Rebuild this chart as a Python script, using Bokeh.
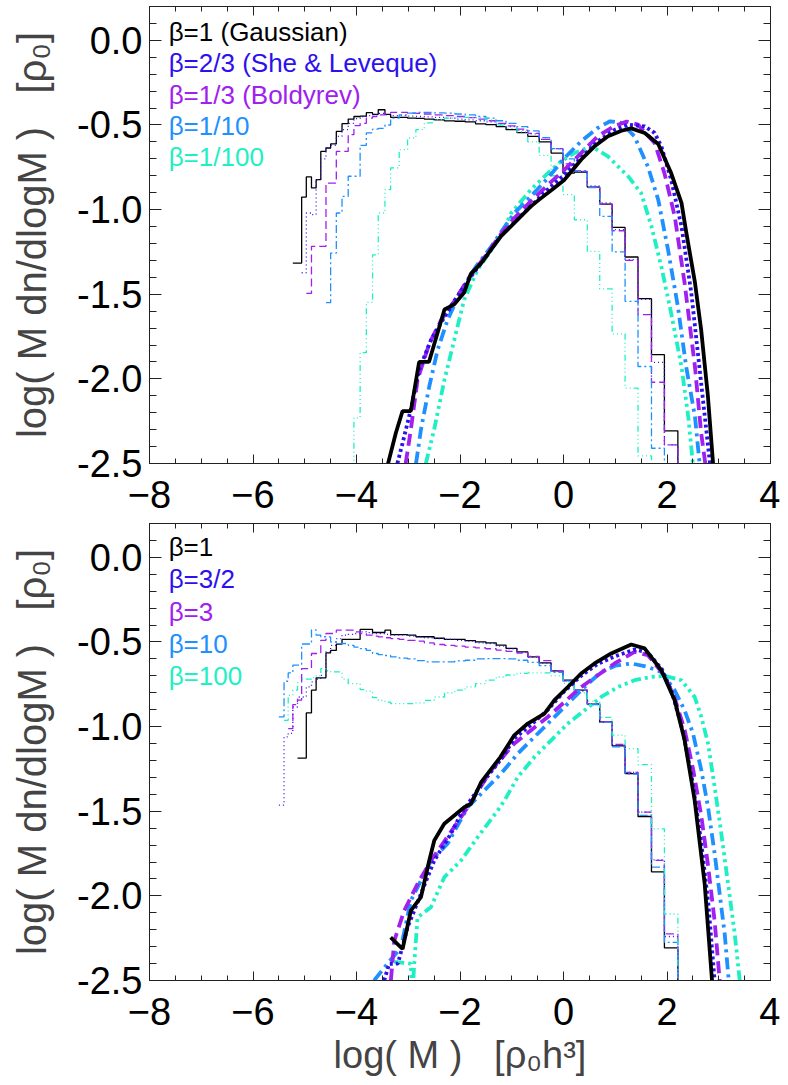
import math
from bokeh.plotting import figure
from bokeh.models import Range1d, LinearAxis, SingleIntervalTicker, PrintfTickFormatter, BasicTickFormatter, Label
from bokeh.layouts import column
from bokeh.embed import file_html
from bokeh.resources import INLINE

FLOOR = -3.0  # histogram bins that fall below the plotted range
N = None

# common histogram bin edges, log(M)
EDGES = [-5.50, -5.40, -5.32, -5.23, -5.14, -5.06, -4.97, -4.87, -4.78, -4.69,
         -4.59, -4.50, -4.39, -4.28, -4.16, -4.05, -3.93, -3.81, -3.69, -3.58,
         -3.45, -3.34, -3.175, -3.013, -2.852, -2.69, -2.50, -2.30, -2.10, -1.90,
         -1.70, -1.50, -1.30, -1.11, -0.90, -0.69, -0.47, -0.24, -0.01, 0.21,
         0.46, 0.70, 0.94, 1.19, 1.44, 1.70, 1.95, 2.21, 2.46]

# ---------------- top panel: histograms ----------------
TOP_HIST_B1 = [N, N, N, -1.316, -1.316, -0.926, -0.807, -0.872, -0.823, -0.656,
               -0.636, -0.612, -0.538, -0.492, -0.465, -0.450, -0.448, -0.427, -0.437, -0.410,
               -0.437, -0.455, -0.455, -0.459, -0.461, -0.465, -0.470, -0.476, -0.478, -0.482,
               -0.493, -0.498, -0.510, -0.528, -0.545, -0.567, -0.600, -0.666, -0.784, -0.778,
               -0.867, -0.967, -1.105, -1.280, -1.526, -1.857, -2.307, FLOOR]
TOP_HIST_B23 = [N, N, N, N, N, -1.373, -1.02, -1.03, -0.823, -0.70,
                -0.636, -0.62, -0.567, -0.527, -0.49, -0.462, -0.450, -0.445, -0.440, -0.432,
                -0.440, -0.445, -0.445, -0.448, -0.450, -0.452, -0.455, -0.460, -0.465, -0.470,
                -0.475, -0.482, -0.495, -0.510, -0.530, -0.552, -0.585, -0.640, -0.740, -0.775,
                -0.860, -0.960, -1.118, -1.296, -1.530, -1.903, -2.390, FLOOR]
TOP_HIST_B13 = [N, N, N, N, N, N, -1.495, -1.217, -1.217, -1.217,
                -0.843, -0.843, -0.656, -0.656, -0.557, -0.504, -0.490, -0.459, -0.450, -0.440,
                -0.430, -0.425, -0.425, -0.430, -0.432, -0.435, -0.440, -0.445, -0.450, -0.457,
                -0.465, -0.475, -0.490, -0.505, -0.525, -0.550, -0.585, -0.640, -0.730, -0.774,
                -0.867, -0.967, -1.125, -1.300, -1.620, -2.020, -2.390, FLOOR]
TOP_HIST_B110 = [N, N, N, N, N, N, N, N, N, N,
                 -1.55, -1.257, -1.02, -0.922, -0.803, -0.803, -0.620, -0.547, -0.525, -0.520,
                 -0.500, -0.460, -0.440, -0.430, -0.425, -0.425, -0.428, -0.430, -0.435, -0.440,
                 -0.450, -0.460, -0.475, -0.490, -0.510, -0.535, -0.575, -0.640, -0.700, -0.770,
                 -0.870, -1.040, -1.250, -1.542, -1.927, -2.410, FLOOR, N]
TOP_HIST_B1100 = [N, N, N, N, N, N, N, N, N, N,
                  N, N, N, N, FLOOR, -2.23, -1.845, -1.548, -1.267, -1.020,
                  -0.882, -0.754, -0.646, -0.577, -0.528, -0.488, -0.469, -0.460, -0.455, -0.455,
                  -0.458, -0.470, -0.500, -0.520, -0.540, -0.600, -0.680, -0.800, -0.912, -1.060,
                  -1.247, -1.468, -1.734, -2.055, -2.455, FLOOR, N, N]

# ---------------- top panel: model curves ----------------
TOP_B1_X = [-3.39, -3.24, -3.11, -2.95, -2.79, -2.60, -2.30, -2.11, -1.92, -1.79, -1.59, -1.40,
            -1.21, -0.95, -0.63, -0.47, -0.18, 0.02, 0.18, 0.34, 0.60, 0.86, 1.12, 1.31, 1.57,
            1.83, 2.08, 2.28, 2.37, 2.54, 2.66, 2.79, 2.89]
TOP_B1_Y = [-2.50, -2.32, -2.19, -2.19, -1.90, -1.90, -1.59, -1.56, -1.49, -1.38, -1.316, -1.237,
            -1.158, -1.079, -0.981, -0.941, -0.872, -0.823, -0.764, -0.705, -0.626, -0.567, -0.534,
            -0.520, -0.547, -0.612, -0.784, -0.96, -1.13, -1.43, -1.71, -2.10, -2.50]
TOP_B23_X = [-3.21, -3.11, -2.95, -2.79, -2.56, -2.37, -2.11, -1.80, -1.50, -1.20, -0.90, -0.60,
             -0.30, 0.02, 0.34, 0.66, 0.99, 1.25, 1.57, 1.76, 1.89, 2.08, 2.28, 2.47, 2.66, 2.83]
TOP_B23_Y = [-2.50, -2.38, -2.18, -1.946, -1.77, -1.67, -1.54, -1.40, -1.28, -1.15, -1.06, -0.97,
             -0.88, -0.794, -0.695, -0.597, -0.528, -0.498, -0.508, -0.547, -0.626, -0.823, -1.099,
             -1.493, -2.025, -2.50]
TOP_B13_X = [-3.05, -2.95, -2.82, -2.59, -2.36, -2.11, -1.80, -1.50, -1.20, -0.95, -0.63, -0.30,
             0.02, 0.34, 0.66, 0.99, 1.22, 1.44, 1.76, 1.95, 2.15, 2.34, 2.54, 2.66, 2.74]
TOP_B13_Y = [-2.50, -2.30, -2.005, -1.788, -1.65, -1.54, -1.39, -1.27, -1.14, -1.05, -0.95, -0.853,
             -0.764, -0.666, -0.567, -0.505, -0.480, -0.498, -0.606, -0.784, -1.04, -1.434, -1.927,
             -2.32, -2.50]
TOP_B110_X = [-2.85, -2.755, -2.594, -2.432, -2.239, -2.00, -1.70, -1.40, -1.20, -0.95, -0.63, -0.30,
              0.02, 0.34, 0.66, 0.90, 1.12, 1.37, 1.63, 1.83, 2.02, 2.21, 2.37, 2.54, 2.63]
TOP_B110_Y = [-2.50, -2.30, -2.045, -1.828, -1.651, -1.49, -1.34, -1.22, -1.13, -1.02, -0.922, -0.813,
              -0.695, -0.597, -0.518, -0.478, -0.488, -0.567, -0.745, -0.941, -1.237, -1.572, -1.927,
              -2.222, -2.50]
TOP_B1100_X = [-2.66, -2.50, -2.30, -2.11, -1.92, -1.66, -1.40, -1.21, -1.01, -0.63, -0.30, -0.05,
               0.21, 0.54, 0.86, 1.25, 1.50, 1.70, 1.89, 2.08, 2.28, 2.41, 2.50]
TOP_B1100_Y = [-2.50, -2.30, -2.005, -1.769, -1.532, -1.355, -1.24, -1.158, -1.02, -0.882, -0.784,
               -0.715, -0.666, -0.626, -0.686, -0.804, -0.902, -1.099, -1.336, -1.611, -1.927,
               -2.222, -2.50]

# ---------------- bottom panel: histograms ----------------
BOT_HIST_B1 = [N, N, N, N, -1.186, -1.186, -0.919, -0.785, -0.712, -0.712,
               -0.564, -0.550, -0.513, -0.485, -0.485, -0.485, -0.426, -0.426, -0.444, -0.444,
               -0.430, -0.456, -0.456, -0.460, -0.469, -0.469, -0.478, -0.485, -0.485, -0.492,
               -0.499, -0.505, -0.519, -0.538, -0.558, -0.588, -0.623, -0.671, -0.726, -0.785,
               -0.868, -0.972, -1.114, -1.278, -1.531, -1.858, -2.307, FLOOR]
BOT_HIST_B32 = [-1.464, -1.061, -1.040, -0.884, -0.825, -0.825, -0.765, -0.736, -0.720, -0.697,
                -0.558, -0.520, -0.480, -0.460, -0.455, -0.450, -0.440, -0.445, -0.450, -0.450,
                -0.455, -0.460, -0.460, -0.465, -0.470, -0.475, -0.480, -0.485, -0.490, -0.495,
                -0.505, -0.510, -0.525, -0.540, -0.560, -0.590, -0.625, -0.675, -0.730, -0.790,
                -0.870, -0.975, -1.110, -1.270, -1.505, -1.787, -2.240, FLOOR]
BOT_HIST_B3 = [N, N, -1.012, -0.870, -0.843, -0.657, -0.657, -0.568, -0.568, -0.490,
               -0.450, -0.450, -0.430, -0.430, -0.430, -0.440, -0.450, -0.460, -0.465, -0.470,
               -0.475, -0.480, -0.485, -0.490, -0.495, -0.505, -0.515, -0.520, -0.525, -0.530,
               -0.535, -0.540, -0.548, -0.555, -0.565, -0.585, -0.610, -0.670, -0.730, -0.785,
               -0.865, -0.970, -1.105, -1.270, -1.505, -1.790, -2.225, FLOOR]
BOT_HIST_B10 = [-0.943, -0.732, -0.683, -0.637, -0.637, -0.512, -0.512, -0.429, -0.460, -0.469,
                -0.470, -0.500, -0.510, -0.509, -0.520, -0.530, -0.539, -0.550, -0.568, -0.575,
                -0.580, -0.588, -0.595, -0.600, -0.610, -0.617, -0.617, -0.617, -0.612, -0.608,
                -0.600, -0.598, -0.598, -0.600, -0.608, -0.620, -0.640, -0.680, -0.730, -0.785,
                -0.870, -0.975, -1.120, -1.280, -1.525, -1.830, -2.275, FLOOR]
BOT_HIST_B100 = [N, -0.963, -0.815, -0.785, -0.740, -0.720, -0.720, -0.710, -0.700, -0.657,
                 -0.670, -0.677, -0.677, -0.720, -0.746, -0.746, -0.781, -0.790, -0.829, -0.845,
                 -0.855, -0.864, -0.864, -0.864, -0.860, -0.845, -0.825, -0.800, -0.785, -0.765,
                 -0.746, -0.725, -0.707, -0.695, -0.685, -0.683, -0.683, -0.700, -0.745, -0.800,
                 -0.850, -0.945, -1.050, -1.130, -1.225, -1.604, -2.107, FLOOR]

# ---------------- bottom panel: model curves ----------------
BOT_B1_X = [-3.34, -3.11, -2.95, -2.755, -2.594, -2.497, -2.304, -1.917, -1.787, -1.594, -1.22,
            -0.949, -0.69, -0.368, -0.175, 0.083, 0.341, 0.599, 0.922, 1.309, 1.567, 1.89, 2.148,
            2.341, 2.535, 2.728, 2.87]
BOT_B1_Y = [-2.245, -2.314, -2.087, -2.008, -1.791, -1.673, -1.574, -1.476, -1.456, -1.33, -1.18,
            -1.05, -0.982, -0.923, -0.844, -0.766, -0.686, -0.627, -0.568, -0.515, -0.538, -0.667,
            -0.844, -1.081, -1.436, -1.929, -2.50]
BOT_B32_X = [-3.465, -3.37, -3.20, -3.013, -2.755, -2.497, -2.175, -1.98, -1.53, -1.20, -0.95, -0.63,
             -0.30, 0.02, 0.34, 0.66, 0.99, 1.37, 1.62, 1.90, 2.10, 2.30, 2.48, 2.66, 2.80, 2.92]
BOT_B32_Y = [-2.50, -2.402, -2.40, -2.186, -1.988, -1.791, -1.633, -1.515, -1.318, -1.19, -1.07, -0.99,
             -0.90, -0.79, -0.70, -0.63, -0.585, -0.545, -0.56, -0.66, -0.80, -1.02, -1.30, -1.68,
             -2.05, -2.50]
BOT_B3_X = [-3.336, -3.27, -3.078, -2.82, -2.56, -2.24, -1.85, -1.40, -0.949, -0.303, 0.341, 0.986,
            1.373, 1.632, 1.954, 2.148, 2.341, 2.503, 2.664, 2.793, 2.921, 3.018]
BOT_B3_Y = [-2.50, -2.265, -2.087, -1.929, -1.791, -1.65, -1.476, -1.259, -1.10, -0.943, -0.766,
            -0.627, -0.558, -0.578, -0.700, -0.830, -1.020, -1.250, -1.530, -1.820, -2.150, -2.50]
BOT_B10_X = [-3.66, -3.40, -3.14, -2.95, -2.56, -2.24, -1.85, -1.207, -0.884, -0.562, -0.239, 0.083,
             0.406, 0.728, 1.0, 1.309, 1.6, 1.89, 2.148, 2.341, 2.503, 2.664, 2.793, 2.921, 3.018,
             3.115, 3.193]
BOT_B10_Y = [-2.50, -2.40, -2.304, -2.028, -1.791, -1.692, -1.476, -1.278, -1.16, -1.061, -0.963,
             -0.864, -0.766, -0.677, -0.64, -0.627, -0.645, -0.677, -0.785, -0.904, -1.041, -1.259,
             -1.476, -1.751, -1.988, -2.225, -2.50]
BOT_B100_X = [-3.27, -2.95, -2.92, -2.885, -2.82, -2.562, -2.304, -1.98, -1.658, -1.27, -1.14, -0.884,
              -0.562, -0.239, 0.083, 0.406, 0.728, 1.051, 1.373, 1.696, 1.954, 2.277, 2.535, 2.664,
              2.793, 2.921, 3.05, 3.18, 3.309, 3.405]
BOT_B100_Y = [-2.39, -2.40, -2.60, -2.402, -2.127, -2.067, -1.89, -1.791, -1.653, -1.495, -1.436,
              -1.298, -1.18, -1.081, -0.982, -0.904, -0.825, -0.766, -0.726, -0.706, -0.700, -0.726,
              -0.825, -0.943, -1.10, -1.357, -1.633, -1.929, -2.225, -2.50]

LABELS_TOP = ["β=1 (Gaussian)", "β=2/3 (She & Leveque)", "β=1/3 (Boldyrev)", "β=1/10", "β=1/100"]
LABELS_BOT = ["β=1", "β=3/2", "β=3", "β=10", "β=100"]

SP = "\u00a0\u00a0\u00a0"
Y_TITLE = "log( M dn/dlogM )" + SP + "[ρ₀]"
X_TITLE = "log( M )" + SP + "[ρ₀h³]"

COLORS = ["#000000", "#2c10ee", "#a020f0", "#1e90ff", "#1ff0c4"]
THIN_DASH = ["solid", "1 3", "8 4", "8 3 2 3", "6 3 1 3 1 3 1 3"]
THICK_DASH = ["solid", "3 3", "12 6", "12 5 3 5", "10 4 3 4 3 4 3 4"]

FONT = "Liberation Sans"


def step_path(edges, vals):
    xs, ys = [], []
    for i, v in enumerate(vals):
        if v is None:
            if xs and not math.isnan(xs[-1]):
                xs.append(float("nan"))
                ys.append(float("nan"))
            continue
        xs += [edges[i], edges[i + 1]]
        ys += [v, v]
    return xs, ys


def style_axis(ax, major_in, minor_in, labels):
    ax.major_tick_in = major_in
    ax.major_tick_out = 0
    ax.minor_tick_in = minor_in
    ax.minor_tick_out = 0
    ax.axis_line_color = "#222222"
    ax.major_tick_line_color = "#222222"
    ax.minor_tick_line_color = "#222222"
    if labels:
        ax.major_label_text_font = FONT
        ax.major_label_text_font_size = "38px"
        ax.major_label_text_color = "black"
    else:
        ax.major_label_text_font_size = "0px"
        ax.major_label_text_alpha = 0
        ax.major_label_standoff = 0


def make_panel(hists, curves, labels, ly0, ldy, frame_h, b_top, b_bot, xlabel):
    p = figure(x_range=Range1d(-8, 4), y_range=Range1d(-2.5, 0.2),
               frame_width=621, frame_height=frame_h,
               min_border_left=149, min_border_right=10,
               min_border_top=b_top, min_border_bottom=b_bot,
               output_backend="svg", toolbar_location=None)
    p.grid.visible = False
    p.outline_line_color = "#222222"
    p.background_fill_color = "white"
    p.border_fill_color = "white"

    xt = lambda: SingleIntervalTicker(interval=2, num_minor_ticks=4)
    yt = lambda: SingleIntervalTicker(interval=0.5, num_minor_ticks=5)

    xa = p.xaxis[0]
    xa.ticker = xt()
    xa.formatter = BasicTickFormatter()
    style_axis(xa, 9, 5, True)
    xa.major_label_standoff = 17
    if xlabel:
        xa.axis_label = xlabel
        xa.axis_label_text_font = FONT
        xa.axis_label_text_font_size = "38px"
        xa.axis_label_text_font_style = "normal"
        xa.axis_label_standoff = 6

    ya = p.yaxis[0]
    ya.ticker = yt()
    ya.formatter = PrintfTickFormatter(format="%.1f")
    style_axis(ya, 12, 7, True)
    ya.major_label_standoff = 7
    ya.axis_label = Y_TITLE
    ya.axis_label_text_font = FONT
    ya.axis_label_text_font_size = "40px"
    ya.axis_label_text_font_style = "normal"
    ya.axis_label_standoff = 20

    top_ax = LinearAxis(ticker=xt())
    style_axis(top_ax, 9, 5, False)
    p.add_layout(top_ax, "above")
    right_ax = LinearAxis(ticker=yt())
    style_axis(right_ax, 12, 7, False)
    p.add_layout(right_ax, "right")

    for i, vals in enumerate(hists):
        xs, ys = step_path(EDGES, vals)
        p.line(xs, ys, line_color=COLORS[i], line_width=1.3, line_dash=THIN_DASH[i])

    for i in reversed(range(len(curves))):
        cx, cy = curves[i]
        p.line(cx, cy, line_color=COLORS[i], line_width=3.8, line_dash=THICK_DASH[i])

    for i, txt in enumerate(labels):
        p.add_layout(Label(x=-7.63, y=ly0 + i * ldy, text=txt, text_color=COLORS[i],
                           text_font=FONT, text_font_size="26px", text_baseline="middle"))
    return p


p1 = make_panel([TOP_HIST_B1, TOP_HIST_B23, TOP_HIST_B13, TOP_HIST_B110, TOP_HIST_B1100],
                [(TOP_B1_X, TOP_B1_Y), (TOP_B23_X, TOP_B23_Y), (TOP_B13_X, TOP_B13_Y),
                 (TOP_B110_X, TOP_B110_Y), (TOP_B1100_X, TOP_B1100_Y)],
                LABELS_TOP, 0.05, -0.185, 457, 6, 60, None)
p2 = make_panel([BOT_HIST_B1, BOT_HIST_B32, BOT_HIST_B3, BOT_HIST_B10, BOT_HIST_B100],
                [(BOT_B1_X, BOT_B1_Y), (BOT_B32_X, BOT_B32_Y), (BOT_B3_X, BOT_B3_Y),
                 (BOT_B10_X, BOT_B10_Y), (BOT_B100_X, BOT_B100_Y)],
                LABELS_BOT, 0.06, -0.19, 457, 0, 100, X_TITLE)

layout = column(p1, p2, spacing=0)
open("out.html", "w").write(file_html(layout, INLINE))
